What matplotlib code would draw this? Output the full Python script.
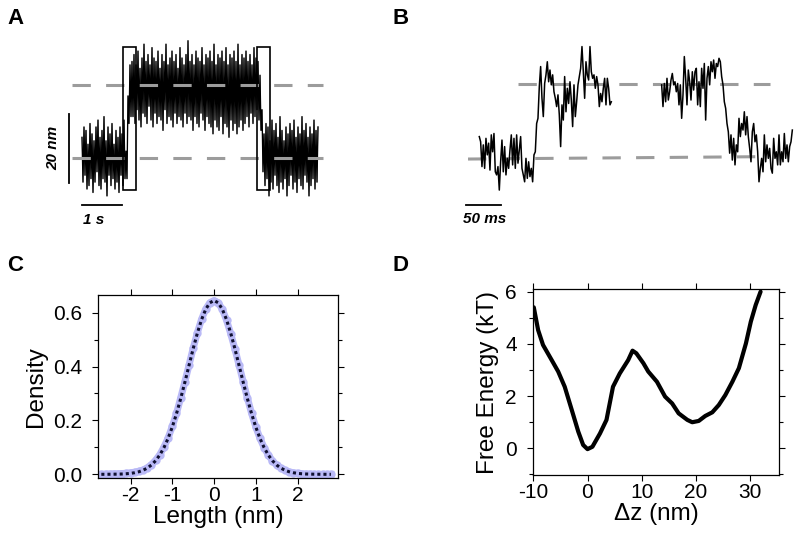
import numpy as np
import matplotlib.pyplot as plt
from matplotlib.patches import Rectangle

plt.rcParams['font.family'] = ['Liberation Sans', 'DejaVu Sans']
plt.rcParams['axes.unicode_minus'] = False

# A: long trace, one value every 25 ms, extension in nm
a_dt = 0.025
a_low1 = [6, -7, 9, -5, 8, -9, 4, -8, 10, -6, 7, -10, 5, -7, 9, -4, 11, -8, 6, -9,
          8, -6, 12, -7, 5, -11, 9, -5, 7, -8, 10, -6, 4, -9, 8, -7, 6, -10, 9, -5,
          7, -8, 11, -6]
a_rise = [2, -6, 18, 10, 27, 12]
a_high = [28, 12, 30, 10, 27, 14, 31, 11, 26, 9, 29, 13, 33, 12, 28, 10, 30, 15, 27, 11,
          32, 9, 29, 13, 28, 10, 31, 12, 26, 11, 30, 8, 28, 14, 33, 10, 27, 12, 29, 11,
          31, 9, 28, 13, 30, 10, 26, 12, 32, 11, 29, 9, 27, 13, 30, 10, 34, 12, 28, 11,
          30, 8, 27, 12, 31, 10, 29, 9, 28, 13, 32, 11, 27, 8, 30, 12, 29, 10, 31, 9,
          28, 7, 33, 11, 27, 9, 30, 8, 29, 12, 31, 7, 28, 10, 32, 9, 27, 6, 30, 11,
          29, 8, 31, 10, 28, 7, 33, 9, 27, 11, 30, 8, 29, 10, 31, 12, 28, 9, 30, 13,
          27, 10, 32, 12, 29, 14, 28, 11]
a_fall = [24, 8, 14, -4]
a_low2 = [7, -8, 10, -6, 9, -11, 5, -7, 11, -9, 8, -5, 10, -8, 6, -10, 12, -7, 8, -9,
          5, -6, 9, -11, 7, -8, 10, -5, 8, -9, 11, -7, 6, -10, 9, -6, 7, -8, 12, -9,
          8, -5, 10, -7, 6, -11, 9, -8, 7, -6, 11, -9, 8, -7, 9]
a_trace = a_low1 + a_rise + a_high + a_fall + a_low2
a_levels = [0.0, 21.2]
a_box_start = [1.025, 4.375]
a_box_len = 0.325
a_box_z = [-9.3, 32.2]

# B: zoom on two transitions, one value every 1.905 ms
b_dt = 1.905
b_start = [19.0, 279.5]
b_seg1 = [6.2, 4.7, -2.5, 3.8, -3.0, 5.7, 0.9, 4.3, -3.5, 6.7,
          1.8, 7.1, -4.0, -4.9, -2.5, -9.3, -1.1, 5.2, -4.0, 3.3,
          -4.9, -0.1, -3.0, 2.3, 6.7, -2.0, 5.7, -3.0, 6.7, -1.5,
          2.3, 6.2, -3.0, -4.9, -6.9, -0.1, -5.9, -1.1, -5.4, -3.0,
          -6.9, 0.9, 1.8, 10.0, 11.5, 20.7, 26.5, 17.3, 12.0, 21.6,
          24.1, 27.9, 22.1, 25.5, 21.2, 24.1, 19.2, 17.3, 14.9, 18.3,
          12.5, 3.3, 15.4, 11.0, 23.6, 13.4, 20.2, 15.8, 22.1, 16.8,
          9.1, 21.2, 12.0, 16.3, 21.2, 23.6, 26.0, 32.3, 25.0, 17.3,
          27.9, 24.1, 22.6, 32.3, 25.0, 23.1, 24.1, 20.2, 23.6, 21.2,
          14.9, 18.7, 16.3, 20.2, 23.1, 15.4, 23.1, 20.2, 15.4, 16.3]
b_seg2 = [21.2, 14.9, 21.6, 16.3, 23.1, 16.8, 19.2, 22.6, 24.5, 21.2,
          22.1, 19.2, 21.6, 15.4, 21.2, 11.5, 18.3, 29.4, 23.1, 15.4,
          25.5, 22.1, 16.8, 25.0, 19.7, 25.0, 26.0, 15.4, 22.1, 14.9,
          26.0, 20.2, 27.4, 11.0, 23.1, 26.5, 21.2, 27.9, 25.0, 28.4,
          23.1, 27.4, 26.5, 28.9, 27.9, 23.6, 21.2, 16.3, 14.4, 10.0,
          7.6, 1.4, 6.7, -0.6, 5.7, -2.0, 3.8, 1.8, 11.5, 6.2,
          10.0, 8.1, 13.4, 6.7, 12.0, 6.2, 2.8, -1.1, 7.6, 10.0,
          4.7, 6.7, 1.8, -6.9, -3.0, -0.1, -4.0, 6.7, -1.1, 3.8,
          -0.1, 2.8, -3.0, -4.4, 5.7, -0.1, 1.8, -2.0, 6.7, -2.0,
          1.8, -1.1, 7.1, -0.1, 3.8, -1.1, 3.3, 4.7, 8.1]
b_high = [21.4, 21.4]
b_low = [-0.3, 0.4]

# C: length distribution and gaussian fit
c_length = np.linspace(-2.7, 2.8, 56)
c_hist = [0.000, 0.001, 0.001, 0.002, 0.002, 0.003, 0.004, 0.006, 0.008, 0.011,
          0.016, 0.024, 0.036, 0.052, 0.073, 0.101, 0.135, 0.178, 0.226, 0.283,
          0.343, 0.405, 0.468, 0.525, 0.575, 0.613, 0.637, 0.645, 0.637, 0.612,
          0.572, 0.522, 0.465, 0.405, 0.343, 0.283, 0.226, 0.176, 0.134, 0.099,
          0.072, 0.050, 0.034, 0.023, 0.015, 0.009, 0.006, 0.004, 0.002, 0.001,
          0.001, 0.000, 0.000, 0.000, 0.000, 0.000]
c_fit = [0.0000, 0.0001, 0.0002, 0.0004, 0.0007, 0.0012, 0.0021, 0.0035, 0.0059, 0.0095,
         0.0150, 0.0231, 0.0345, 0.0504, 0.0716, 0.0991, 0.1336, 0.1757, 0.2248, 0.2804,
         0.3409, 0.4037, 0.4661, 0.5239, 0.5737, 0.6123, 0.6367, 0.6450, 0.6367, 0.6123,
         0.5737, 0.5239, 0.4661, 0.4037, 0.3409, 0.2804, 0.2248, 0.1757, 0.1336, 0.0991,
         0.0716, 0.0504, 0.0345, 0.0231, 0.0150, 0.0095, 0.0059, 0.0035, 0.0021, 0.0012,
         0.0007, 0.0004, 0.0002, 0.0001, 0.0000, 0.0000]

# D: free energy profile
d_dz = [-9.9, -9.1, -8.2, -6.6, -5.4, -4.2, -2.9, -1.7, -0.8, 0.0, 0.9, 2.3, 3.5,
        4.7, 5.95, 7.5, 8.3, 9.0, 10.3, 11.2, 12.8, 14.3, 15.6, 16.8, 18.4, 19.3,
        20.5, 21.7, 23.0, 24.2, 25.4, 26.7, 27.9, 29.2, 30.1, 31.0, 31.9]
d_energy = [5.4, 4.53, 3.96, 3.38, 2.94, 2.36, 1.47, 0.64, 0.13, -0.03, 0.06, 0.57,
            1.09, 2.36, 2.87, 3.38, 3.74, 3.64, 3.26, 2.94, 2.55, 1.98, 1.72, 1.34,
            1.09, 1.00, 1.05, 1.24, 1.38, 1.66, 2.04, 2.55, 3.07, 4.02, 4.85, 5.49, 6.0]

W, H = 800, 541
fig = plt.figure(figsize=(8, 5.41), dpi=100)


def px_axes(l, t, r, b):
    return fig.add_axes([l / W, 1 - b / H, (r - l) / W, (b - t) / H])


dash = (0, (6, 5))
gray = '#9c9c9c'
bar_font = dict(fontsize=11, fontweight='bold', fontstyle='italic', ha='center', va='center')

# panel A
ax = px_axes(40, 30, 330, 235)
ax.set_xlim(-1.05, 6.2)
ax.set_ylim(-22.32, 37.1)
ax.axis('off')
t = np.arange(len(a_trace)) * a_dt
ax.plot(t, a_trace, color='#6a6a6a', lw=0.5, zorder=1)
ax.plot(t, a_trace, color='black', lw=0.95, zorder=2, clip_on=False)
for lev in a_levels:
    ax.plot([-0.25, 6.025], [lev, lev], color=gray, lw=2.2, ls=dash, zorder=3)
for s in a_box_start:
    ax.add_patch(Rectangle((s, a_box_z[0]), a_box_len, a_box_z[1] - a_box_z[0],
                           fill=False, ec='black', lw=1.2, zorder=4))
ax.plot([-0.325, -0.325], [-7.25, 12.75], color='black', lw=1.3)
ax.plot([0, 1], [-13.6, -13.6], color='black', lw=1.3)
ax.text(-0.725, 2.9, '20 nm', rotation=90, **bar_font)
ax.text(0.3, -18.0, '1 s', **bar_font)

# panel B
ax = px_axes(440, 30, 800, 235)
ax.set_xlim(-37.14, 477.14)
ax.set_ylim(-22.32, 37.1)
ax.axis('off')
ax.plot([74.3, 434.3], b_high, color=gray, lw=2.2, ls=dash, zorder=1)
ax.plot([2.9, 434.3], b_low, color=gray, lw=2.2, ls=dash, zorder=1)
for start, seg in zip(b_start, [b_seg1, b_seg2]):
    tt = start + np.arange(len(seg)) * b_dt
    ax.plot(tt, seg, color='black', lw=1.1, zorder=2)
ax.plot([0, 50], [-13.6, -13.6], color='black', lw=1.3)
ax.text(27.1, -17.7, '50 ms', **bar_font)


def style(ax):
    for sp in ax.spines.values():
        sp.set_linewidth(0.9)
    ax.tick_params(which='both', direction='out', top=True, right=True,
                   labeltop=False, labelright=False, width=0.8, labelsize=15)
    ax.tick_params(which='major', length=4.5)
    ax.tick_params(which='minor', length=2.7)
    ax.tick_params(axis='y', pad=7)
    ax.tick_params(axis='x', pad=1)


# panel C
ax = px_axes(98, 295, 338, 478)
ax.plot(c_length, c_hist, color='#b9b9f6', lw=5, marker='o', ms=6, mec='none', zorder=2)
ax.plot(c_length, c_fit, color='#101030', lw=2.2, ls=(0, (1, 1)), zorder=3)
ax.set_xlim(-2.78, 2.97)
ax.set_ylim(-0.0137, 0.6655)
ax.set_xticks([-2, -1, 0, 1, 2])
ax.set_yticks([0, 0.2, 0.4, 0.6])
ax.set_yticklabels(['0.0', '0.2', '0.4', '0.6'])
ax.set_yticks([0.1, 0.3, 0.5], minor=True)
style(ax)
ax.set_xlabel('Length (nm)', fontsize=17.5, labelpad=1)
ax.set_ylabel('Density', fontsize=17.5, labelpad=4)

# panel D
ax = px_axes(532.7, 289.3, 779.3, 475)
ax.plot(d_dz, d_energy, color='black', lw=3, solid_capstyle='round', solid_joinstyle='round')
ax.set_xlim(-10.1, 35.35)
ax.set_ylim(-1.02, 6.09)
ax.set_xticks([-10, 0, 10, 20, 30])
ax.set_yticks([0, 2, 4, 6])
ax.set_yticks([-1, 1, 3, 5], minor=True)
style(ax)
ax.set_xlabel('Δz (nm)', fontsize=17.5, labelpad=1)
ax.set_ylabel('Free Energy (kT)', fontsize=17.5, labelpad=4)

# panel letters
for letter, x, y in [('A', 7, 24), ('B', 393, 24), ('C', 7, 271), ('D', 393, 271)]:
    fig.text(x / W, 1 - y / H, letter, fontsize=16, fontweight='bold', va='baseline')

fig.savefig('out.png', dpi=100)
